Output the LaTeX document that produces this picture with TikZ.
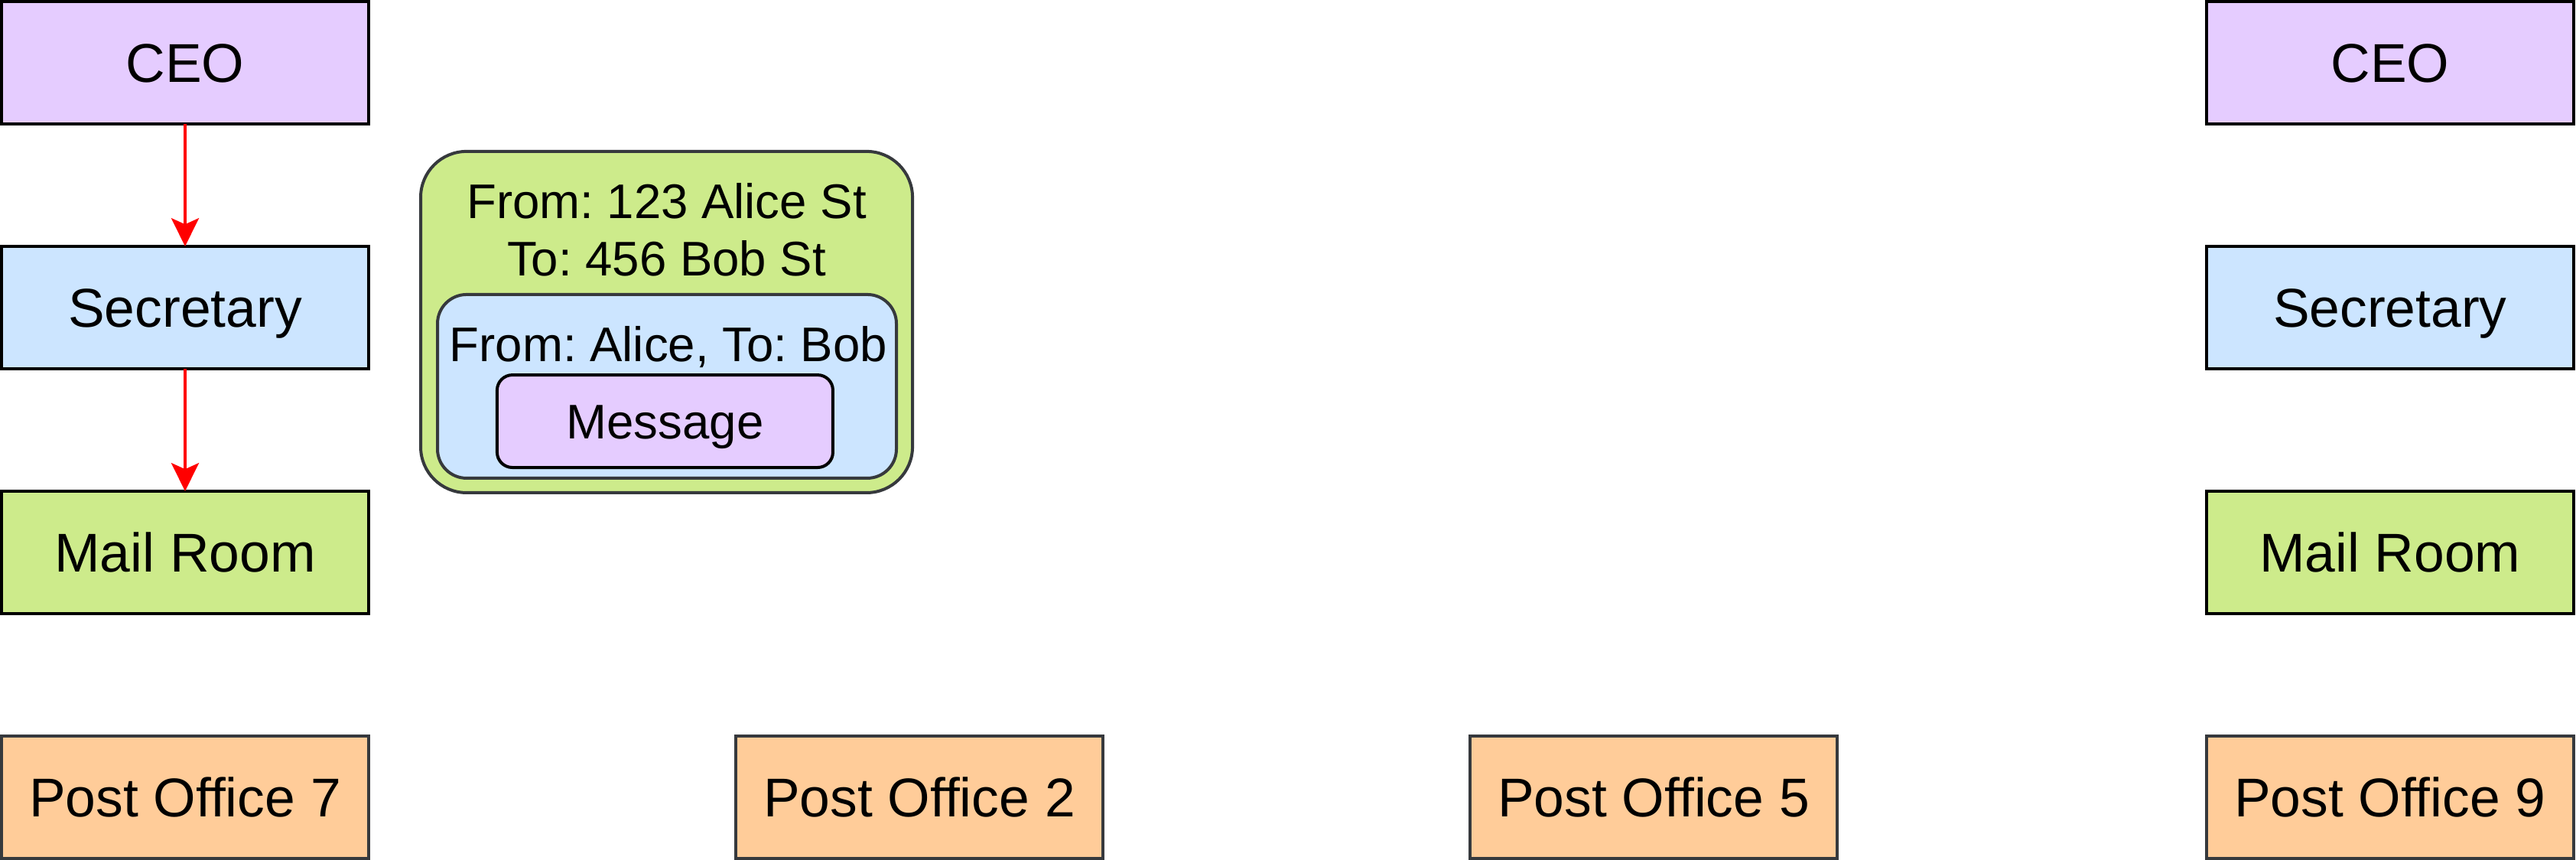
\documentclass[tikz,border=0pt]{standalone}
\usepackage{fontspec}
\setmainfont{Liberation Sans}
\usetikzlibrary{arrows.meta}
\definecolor{cpurple}{HTML}{E5CCFF}
\definecolor{cblue}{HTML}{CCE5FF}
\definecolor{cgreen}{HTML}{CDEB8B}
\definecolor{corange}{HTML}{FFCC99}
\definecolor{cdark}{HTML}{36393D}
\frenchspacing
\begin{document}
\begin{tikzpicture}[
  box/.style={draw=black, line width=0.71pt, minimum width=3cm, minimum height=1cm,
    inner sep=0pt, outer sep=0pt, font=\fontsize{12.7}{15}\selectfont,
    text height=9.1pt, text depth=0pt},
  pobox/.style={box, draw=cdark, fill=corange},
  envbox/.style={draw=cdark, line width=0.71pt, inner sep=0pt, outer sep=0pt},
  smalltext/.style={inner sep=0pt, outer sep=0pt, font=\fontsize{11.3}{13.34}\selectfont},
  redarrow/.style={draw=red, line width=0.71pt, -{Stealth[length=0.23cm, width=0.225cm, inset=0.05cm]}}
]
\useasboundingbox (0,0) rectangle (21.05,-7.025);

% left column
\node[box, fill=cpurple] (ceoL) at (1.5125,-0.5125) {CEO};
\node[box, fill=cblue] (secL) at (1.5125,-2.5125) {Secretary};
\node[box, fill=cgreen] (mailL) at (1.5125,-4.5125) {Mail Room};

% right column
\node[box, fill=cpurple] (ceoR) at (19.53,-0.5125) {CEO};
\node[box, fill=cblue] (secR) at (19.53,-2.5125) {Secretary};
\node[box, fill=cgreen] (mailR) at (19.53,-4.5125) {Mail Room};

% post offices
\node[pobox] (po7) at (1.5125,-6.5125) {Post Office 7};
\node[pobox] (po2) at (7.5125,-6.5125) {Post Office 2};
\node[pobox] (po5) at (13.5125,-6.5125) {Post Office 5};
\node[pobox] (po9) at (19.53,-6.5125) {Post Office 9};

% arrows
\draw[redarrow] (ceoL.south) -- (secL.north);
\draw[redarrow] (secL.south) -- (mailL.north);

% envelope
\node[envbox, fill=cgreen, rounded corners=0.375cm, minimum width=4.019cm, minimum height=2.788cm] (env) at (5.447,-2.631) {};
\node[smalltext, align=center] (envaddr) at (5.447,-1.878) {From: 123 Alice St\\To: 456 Bob St};
\node[envbox, fill=cblue, rounded corners=0.2375cm, minimum width=3.75cm, minimum height=1.5cm] (inner) at (5.45,-3.156) {};
\node[smalltext, text height=8.1pt, text depth=0pt] (innername) at (5.4625,-2.808) {From: Alice, To: Bob};
\node[envbox, draw=black, fill=cpurple, rounded corners=0.125cm, minimum width=2.744cm, minimum height=0.756cm, smalltext, text height=8.1pt, text depth=0pt] (msg) at (5.434,-3.441) {Message};
\end{tikzpicture}
\end{document}
